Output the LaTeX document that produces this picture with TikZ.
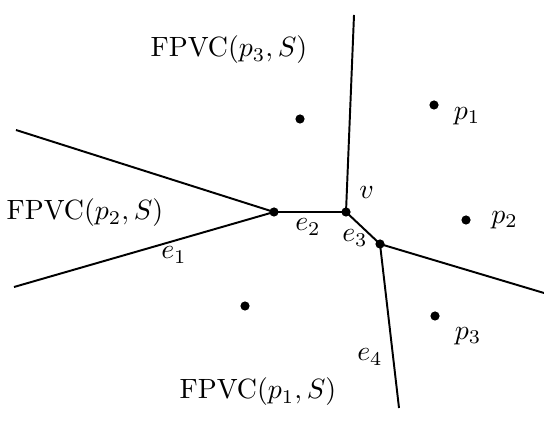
\documentclass[tikz,border=0pt]{standalone}
\usetikzlibrary{positioning}
\begin{document}
\begin{tikzpicture}[x=0.359pt, y=-0.359pt,
  edge/.style={line width=0.7pt},
  site/.style={circle, fill, inner sep=0pt, minimum size=3.3pt},
  vtx/.style={circle, fill, inner sep=0pt, minimum size=3.3pt},
]
\useasboundingbox (0,0) rectangle (544,437);
% Voronoi vertices
\node[vtx] (a) at (274,212) {};
\node[vtx] (v) at (346,212) {};
\node[vtx] (c) at (380,244) {};
% free ends
\coordinate (ul) at (16,130);
\coordinate (ll) at (14,287);
\coordinate (up) at (354,15);
\coordinate (rt) at (544,293);
\coordinate (dn) at (399,408);
\draw[edge] (ul) -- (a.center) -- (ll);
\draw[edge] (a.center) -- (v.center) -- (c.center);
\draw[edge] (v.center) -- (up);
\draw[edge] (rt) -- (c.center) -- (dn);
% sites
\node[site] (s3) at (300,119) {};
\node[site] (s1) at (434,105) {};
\node[site] (s2) at (466,220) {};
\node[site] (s0) at (245,306) {};
\node[site] (s4) at (435,316) {};
\node[right=0.6mm of s1, yshift=-1.4mm] {$p_1$};
\node[right=1.3mm of s2] {$p_2$};
\node[right=0.6mm of s4, yshift=-2.5mm] {$p_3$};
% labels
\node (r3) at (229,50) {FPVC$(p_3,S)$};
\node (r2) at (85,213) {FPVC$(p_2,S)$};
\node (r1) at (258,392) {FPVC$(p_1,S)$};
\node[above right=0pt and 0pt of v] {$v$};
\node at (174,255) {$e_1$};
\node at (308,227) {$e_2$};
\node at (355,238) {$e_3$};
\node at (370,357) {$e_4$};
\end{tikzpicture}
\end{document}
